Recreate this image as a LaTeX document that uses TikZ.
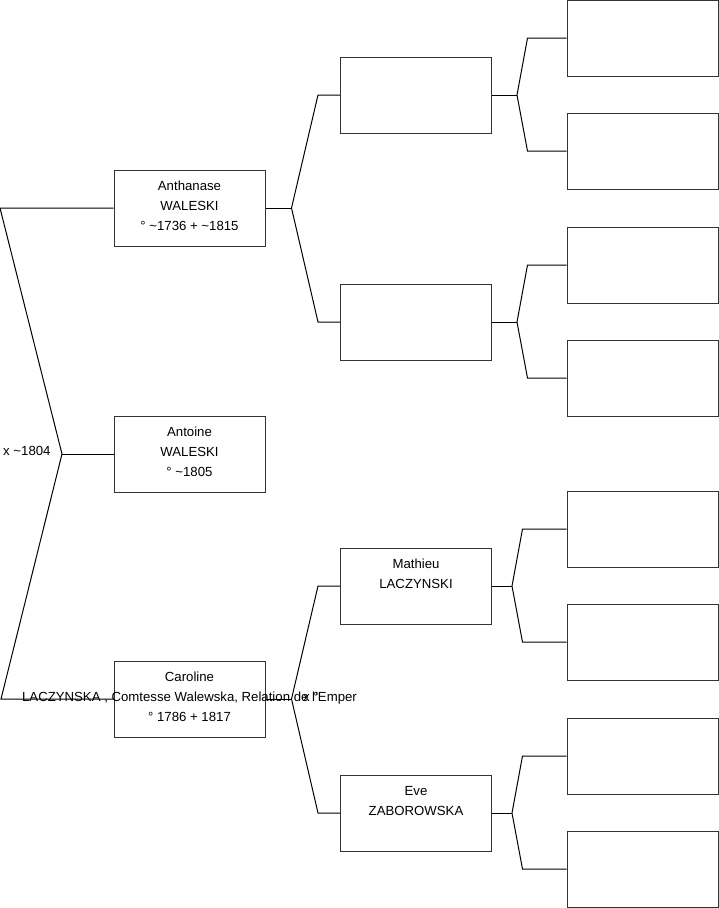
\documentclass[tikz,border=0pt]{standalone}
\usepackage{fontspec}
\setmainfont{Liberation Sans}
\usetikzlibrary{positioning}

\begin{document}
\begin{tikzpicture}[x=1pt,y=-1pt,
  pbox/.style={draw=black!80,line width=1pt,minimum width=151pt,minimum height=76pt,inner sep=0pt,text depth=4pt,align=center,font=\fontsize{13.2}{20}\selectfont},
  lbl/.style={inner sep=0pt,font=\fontsize{13.2}{20}\selectfont},
  lnk/.style={line width=1pt}]
\useasboundingbox (0,0) rectangle (719,908);
% generation 1
\node[pbox](anth) at (189.5,208){Anthanase\\WALESKI\\° \textasciitilde1736 + \textasciitilde1815};
\node[pbox](anto) at (189.5,454){Antoine\\WALESKI\\° \textasciitilde1805};
\node[pbox](caro) at (189.5,699){Caroline\\\makebox[0pt]{LACZYNSKA , Comtesse Walewska, Relation de l'Emper}\\° 1786 + 1817};
% generation 2
\node[pbox](fa1) at (416,95){};
\node[pbox](mo1) at (416,322){};
\node[pbox](math) at (416,586){Mathieu\\LACZYNSKI\\\mbox{}};
\node[pbox](eve) at (416,813){Eve\\ZABOROWSKA\\\mbox{}};
% generation 3
\foreach \n/\y in {1/38,2/151,3/265,4/378,5/529,6/642,7/756,8/869}
  \node[pbox](p\n) at (642.5,\y){};
% marriages
\node[lbl,anchor=west](m1) at (3,451){x \textasciitilde1804};
\node[lbl,anchor=west](m2) at (303,697){x °};
% links
\coordinate (c1) at (0,208);
\coordinate (f1) at (62,454);
\coordinate (c2) at (1,699);
\draw[lnk](anth.west)--(c1)--(f1)--(c2)--(caro.west);
\draw[lnk](f1)--(anto.west);
\draw[lnk](anth.east)--++(26,0) coordinate(f2);
\draw[lnk](fa1.west)--++(-22,0)--(f2)--([xshift=-22pt]mo1.west)--(mo1.west);
\draw[lnk](caro.east)--++(26,0) coordinate(f3);
\draw[lnk](math.west)--++(-22,0)--(f3)--([xshift=-22pt]eve.west)--(eve.west);
\foreach \g/\a/\b/\f/\s in {fa1/p1/p2/25/39,mo1/p3/p4/25/39,math/p5/p6/20/44,eve/p7/p8/20/44}{
  \draw[lnk](\g.east)--++(\f,0) coordinate(k);
  \draw[lnk](\a.west)--([xshift=-\s pt]\a.west)--(k)--([xshift=-\s pt]\b.west)--(\b.west);
}
\end{tikzpicture}
\end{document}
